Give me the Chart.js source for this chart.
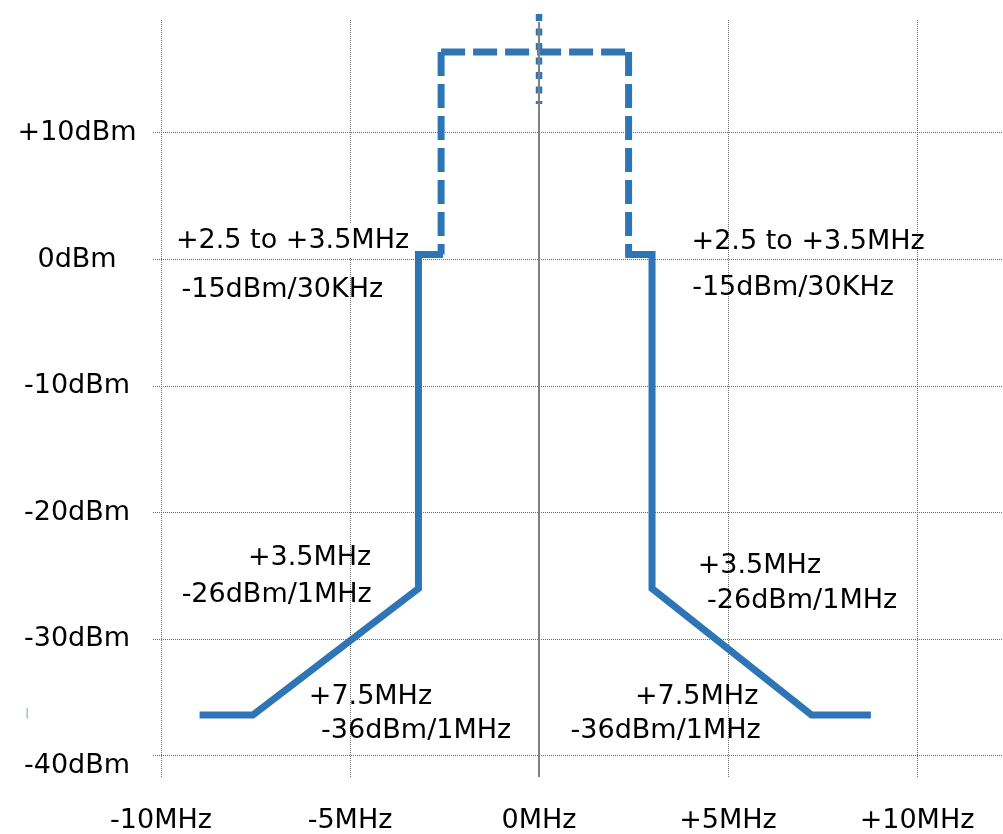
<!DOCTYPE html>
<html>
<head>
<meta charset="utf-8">
<title>Spectrum emission mask</title>
<script src="https://cdn.jsdelivr.net/npm/chart.js@4/dist/chart.umd.min.js"></script>
<style>
  html, body { margin: 0; padding: 0; background: #ffffff; }
  #wrap { width: 1003px; height: 834px; position: relative; }
</style>
</head>
<body>
<div id="wrap"><canvas id="mask"></canvas></div>
<script>
// Axis ticks
const freqTicks = [-10, -5, 0, 5, 10];
const freqTickLabels = ['-10MHz', '-5MHz', '0MHz', '+5MHz', '+10MHz'];
const levelTicks = [-40, -30, -20, -10, 0, 10];
const levelTickLabels = ['-40dBm', '-30dBm', '-20dBm', '-10dBm', '0dBm', '+10dBm'];

// Emission mask, lower side (MHz offset, dBm)
const maskLowerMHz = [-8.98, -7.57, -3.19, -3.19, -2.54];
const maskLowerDbm = [-36, -36, -26, 0.4, 0.4];
// Emission mask, upper side
const maskUpperMHz = [2.28, 2.99, 2.99, 7.21, 8.78];
const maskUpperDbm = [0.4, 0.4, -26, -36, -36];
// In-channel power outline: three edges, each stroked on its own
const channelMHz = [-2.59, -2.59, null, -2.59, 2.37, null, 2.37, 2.37];
const channelDbm = [16.4, 0.4, null, 16.4, 16.4, null, 16.4, 0.4];
// Carrier marker at 0 MHz
const carrierMHz = [0, 0];
const carrierDbm = [19.4, 12.3];
// Short stub left of the plot
const stubMHz = [-13.54, -13.54];
const stubDbm = [-35.45, -36.3];

// Breakpoint notes
const noteTexts = ['+2.5 to +3.5MHz', '-15dBm/30KHz', '+2.5 to +3.5MHz', '-15dBm/30KHz',
                   '+3.5MHz', '-26dBm/1MHz', '+3.5MHz', '-26dBm/1MHz',
                   '+7.5MHz', '-36dBm/1MHz', '+7.5MHz', '-36dBm/1MHz'];
const noteMHz = [-6.52, -6.79, 7.12, 6.72, -6.07, -6.94, 5.83, 6.96, -4.46, -3.25, 4.17, 3.35];
const noteDbm = [1.46, -2.41, 1.38, -2.25, -23.6, -26.52, -24.23, -26.99, -34.6, -37.27, -34.6, -37.27];

const BLUE = '#2e75b6';
const GRID = '#6a6a6a';
const FONT = '"DejaVu Sans", Verdana, sans-serif';
const bottomRuleDbm = -39.16;

const pairs = (xs, ys) => xs.map((x, i) => ({ x: x, y: ys[i] }));

const decor = {
  id: 'decor',
  beforeDatasetsDraw(chart) {
    const { ctx, chartArea: a, scales: { y } } = chart;
    ctx.save();
    // lowest horizontal rule
    const yb = Math.round(y.getPixelForValue(bottomRuleDbm)) + 0.5;
    ctx.strokeStyle = GRID;
    ctx.lineWidth = 1;
    ctx.setLineDash([1, 1]);
    ctx.beginPath();
    ctx.moveTo(a.left, yb);
    ctx.lineTo(a.right, yb);
    ctx.stroke();
    // white backing behind the upper-left note
    ctx.font = '27px ' + FONT;
    const w = ctx.measureText(noteTexts[0]).width;
    const cx = chart.scales.x.getPixelForValue(noteMHz[0]);
    const cy = y.getPixelForValue(noteDbm[0]);
    ctx.fillStyle = '#ffffff';
    ctx.fillRect(cx - w / 2 - 12, cy - 18, w + 14, 34);
    ctx.restore();
  },
  afterDatasetsDraw(chart) {
    const { ctx, chartArea: a, scales: { x } } = chart;
    ctx.save();
    const x0 = x.getPixelForValue(0);
    ctx.strokeStyle = '#808080';
    ctx.lineWidth = 2;
    ctx.beginPath();
    ctx.moveTo(x0, a.top + 2);
    ctx.lineTo(x0, a.bottom);
    ctx.stroke();
    ctx.restore();
  },
  afterDraw(chart) {
    const { ctx, scales: { x, y } } = chart;
    ctx.save();
    ctx.font = '27px ' + FONT;
    ctx.fillStyle = '#000000';
    ctx.textAlign = 'center';
    ctx.textBaseline = 'middle';
    noteTexts.forEach((t, i) => {
      ctx.fillText(t, x.getPixelForValue(noteMHz[i]), y.getPixelForValue(noteDbm[i]));
    });
    ctx.restore();
  }
};

const lineStyle = {
  borderColor: BLUE,
  borderWidth: 7,
  borderJoinStyle: 'miter',
  borderCapStyle: 'butt',
  pointRadius: 0,
  tension: 0,
  fill: false
};

new Chart(document.getElementById('mask'), {
  type: 'line',
  data: {
    datasets: [
      Object.assign({}, lineStyle, { label: 'Carrier', data: pairs(carrierMHz, carrierDbm), borderWidth: 6.5, borderDash: [7, 7.5], clip: false }),
      Object.assign({}, lineStyle, { label: 'Channel power', data: pairs(channelMHz, channelDbm), borderDash: [24, 8], spanGaps: false }),
      Object.assign({}, lineStyle, { label: 'Mask lower', data: pairs(maskLowerMHz, maskLowerDbm) }),
      Object.assign({}, lineStyle, { label: 'Mask upper', data: pairs(maskUpperMHz, maskUpperDbm) }),
      Object.assign({}, lineStyle, { label: 'Stub', data: pairs(stubMHz, stubDbm), borderColor: '#9dc3e6', borderWidth: 1.5, clip: false })
    ]
  },
  options: {
    responsive: true,
    maintainAspectRatio: false,
    animation: false,
    events: [],
    layout: { padding: { top: 20, left: 0, right: 0, bottom: 0 } },
    plugins: { legend: { display: false }, tooltip: { enabled: false } },
    scales: {
      x: {
        type: 'linear',
        bounds: 'data',
        min: -10.212,
        max: 12.275,
        afterBuildTicks: s => { s.ticks = freqTicks.map(v => ({ value: v })); },
        afterFit: s => { s.height = 57; s.paddingLeft = 0; s.paddingRight = 0; },
        grid: {
          color: c => (c.tick && c.tick.value === 0) ? 'rgba(0,0,0,0)' : GRID,
          lineWidth: 1,
          drawTicks: false
        },
        border: { display: false, dash: [1, 1] },
        ticks: {
          padding: 28,
          autoSkip: false,
          maxRotation: 0,
          color: '#000000',
          font: { family: FONT, size: 27 },
          callback: v => freqTickLabels[freqTicks.indexOf(v)]
        }
      },
      y: {
        type: 'linear',
        bounds: 'data',
        min: -40.9,
        max: 18.93,
        afterBuildTicks: s => { s.ticks = levelTicks.map(v => ({ value: v })); },
        afterFit: s => { s.width = 153; s.paddingTop = 0; s.paddingBottom = 0; },
        grid: {
          color: c => (c.tick && c.tick.value === -40) ? 'rgba(0,0,0,0)' : GRID,
          lineWidth: 1,
          drawTicks: false
        },
        border: { display: false, dash: [1, 1] },
        ticks: {
          padding: 16.5,
          crossAlign: 'center',
          color: '#000000',
          font: { family: FONT, size: 27 },
          callback: v => levelTickLabels[levelTicks.indexOf(v)]
        }
      }
    }
  },
  plugins: [decor]
});
</script>
</body>
</html>
